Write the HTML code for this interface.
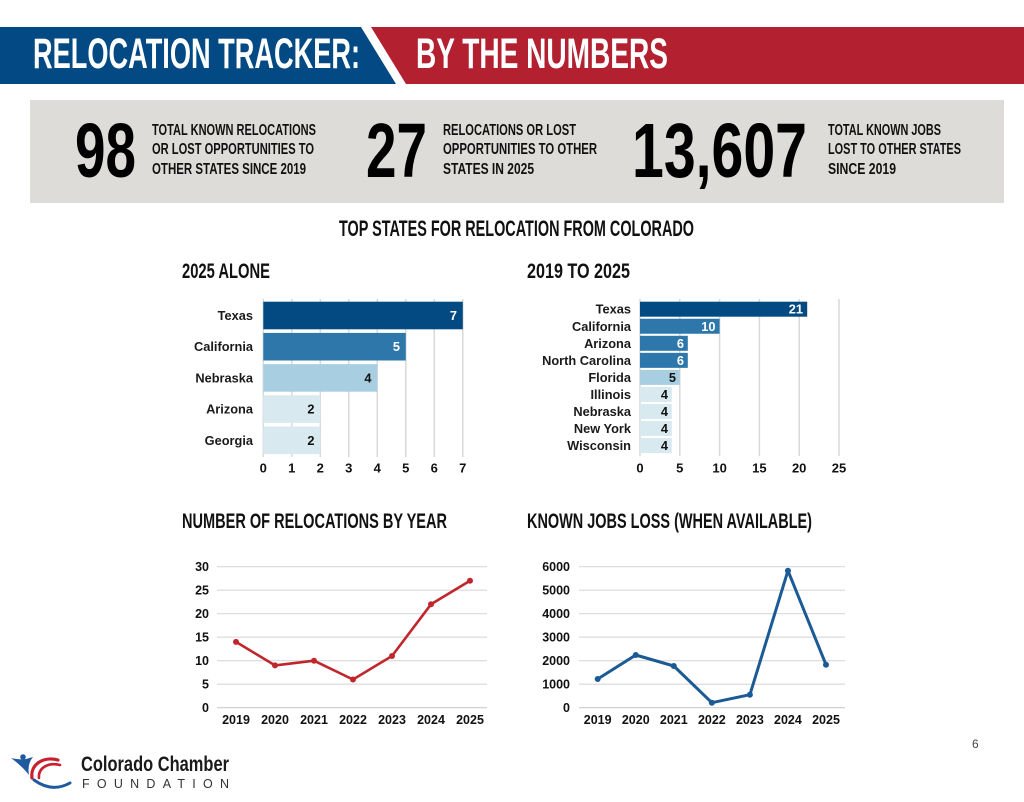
<!DOCTYPE html>
<html>
<head>
<meta charset="utf-8">
<style>
html,body{margin:0;padding:0;background:#fff;}
body{width:1024px;height:802px;overflow:hidden;}
svg{display:block;}
.cond{font-family:"Liberation Sans Narrow","Liberation Sans",sans-serif;font-weight:bold;}
.sans{font-family:"Liberation Sans",sans-serif;font-weight:bold;}
</style>
</head>
<body>
<svg width="1024" height="802" viewBox="0 0 1024 802" xmlns="http://www.w3.org/2000/svg">
  <!-- Header banner -->
  <polygon points="0,27 361,27 396,84 0,84" fill="#034a84"/>
  <polygon points="371,27 1024,27 1024,84 406,84" fill="#b32030"/>
  <text class="cond" x="33" y="68" font-size="43" fill="#fff" textLength="327" lengthAdjust="spacingAndGlyphs">RELOCATION TRACKER:</text>
  <text class="cond" x="416" y="68" font-size="43" fill="#fff" textLength="252" lengthAdjust="spacingAndGlyphs">BY THE NUMBERS</text>

  <!-- Stats box -->
  <rect x="30" y="100" width="974" height="103" fill="#dddcd8"/>
  <text class="cond" x="75" y="177" font-size="77" fill="#000" textLength="61" lengthAdjust="spacingAndGlyphs">98</text>
  <text class="cond" x="152" y="135" font-size="16" fill="#111" textLength="164" lengthAdjust="spacingAndGlyphs">TOTAL KNOWN RELOCATIONS</text>
  <text class="cond" x="152" y="154" font-size="16" fill="#111" textLength="162" lengthAdjust="spacingAndGlyphs">OR LOST OPPORTUNITIES TO</text>
  <text class="cond" x="152" y="174" font-size="16" fill="#111" textLength="154" lengthAdjust="spacingAndGlyphs">OTHER STATES SINCE 2019</text>

  <text class="cond" x="366" y="177" font-size="77" fill="#000" textLength="61" lengthAdjust="spacingAndGlyphs">27</text>
  <text class="cond" x="443" y="135" font-size="16" fill="#111" textLength="133" lengthAdjust="spacingAndGlyphs">RELOCATIONS OR LOST</text>
  <text class="cond" x="443" y="154" font-size="16" fill="#111" textLength="154" lengthAdjust="spacingAndGlyphs">OPPORTUNITIES TO OTHER</text>
  <text class="cond" x="443" y="174" font-size="16" fill="#111" textLength="91" lengthAdjust="spacingAndGlyphs">STATES IN 2025</text>

  <text class="cond" x="632" y="177" font-size="77" fill="#000" textLength="175" lengthAdjust="spacingAndGlyphs">13,607</text>
  <text class="cond" x="828" y="135" font-size="16" fill="#111" textLength="113" lengthAdjust="spacingAndGlyphs">TOTAL KNOWN JOBS</text>
  <text class="cond" x="828" y="154" font-size="16" fill="#111" textLength="133" lengthAdjust="spacingAndGlyphs">LOST TO OTHER STATES</text>
  <text class="cond" x="828" y="174" font-size="16" fill="#111" textLength="68" lengthAdjust="spacingAndGlyphs">SINCE 2019</text>

  <!-- Section title -->
  <text class="cond" x="339" y="236" font-size="22" fill="#111" textLength="355" lengthAdjust="spacingAndGlyphs">TOP STATES FOR RELOCATION FROM COLORADO</text>

  <!-- ===== Bar chart 1: 2025 ALONE ===== -->
  <text class="cond" x="182" y="278" font-size="21" fill="#111" textLength="88" lengthAdjust="spacingAndGlyphs">2025 ALONE</text>
  <g stroke="#d9d9d9" stroke-width="1.5">
    <line x1="263.3" y1="299" x2="263.3" y2="457"/>
    <line x1="291.8" y1="299" x2="291.8" y2="457"/>
    <line x1="320.3" y1="299" x2="320.3" y2="457"/>
    <line x1="348.8" y1="299" x2="348.8" y2="457"/>
    <line x1="377.3" y1="299" x2="377.3" y2="457"/>
    <line x1="405.8" y1="299" x2="405.8" y2="457"/>
    <line x1="434.3" y1="299" x2="434.3" y2="457"/>
    <line x1="462.8" y1="299" x2="462.8" y2="457"/>
  </g>
  <rect x="263.3" y="301.7" width="199.5" height="27.6" fill="#034a82"/>
  <rect x="263.3" y="332.9" width="142.5" height="27.6" fill="#2d77aa"/>
  <rect x="263.3" y="364.1" width="114" height="27.6" fill="#a7cfe1"/>
  <rect x="263.3" y="395.3" width="57" height="27.6" fill="#d8e9f0"/>
  <rect x="263.3" y="426.5" width="57" height="27.6" fill="#d8e9f0"/>
  <g class="sans" font-size="12.8" fill="#1a1a1a" text-anchor="end">
    <text x="253" y="320">Texas</text>
    <text x="253" y="351.2">California</text>
    <text x="253" y="382.4">Nebraska</text>
    <text x="253" y="413.6">Arizona</text>
    <text x="253" y="444.8">Georgia</text>
  </g>
  <g class="sans" font-size="12.8" text-anchor="end">
    <text x="457" y="320" fill="#fff">7</text>
    <text x="400" y="351.2" fill="#fff">5</text>
    <text x="371.5" y="382.4" fill="#111">4</text>
    <text x="314.5" y="413.6" fill="#111">2</text>
    <text x="314.5" y="444.8" fill="#111">2</text>
  </g>
  <g class="sans" font-size="13" fill="#111" text-anchor="middle">
    <text x="263.3" y="472.5">0</text>
    <text x="291.8" y="472.5">1</text>
    <text x="320.3" y="472.5">2</text>
    <text x="348.8" y="472.5">3</text>
    <text x="377.3" y="472.5">4</text>
    <text x="405.8" y="472.5">5</text>
    <text x="434.3" y="472.5">6</text>
    <text x="462.8" y="472.5">7</text>
  </g>

  <!-- ===== Bar chart 2: 2019 TO 2025 ===== -->
  <text class="cond" x="527" y="278" font-size="21" fill="#111" textLength="103" lengthAdjust="spacingAndGlyphs">2019 TO 2025</text>
  <g stroke="#d9d9d9" stroke-width="1.5">
    <line x1="640" y1="299" x2="640" y2="456"/>
    <line x1="679.8" y1="299" x2="679.8" y2="456"/>
    <line x1="719.6" y1="299" x2="719.6" y2="456"/>
    <line x1="759.4" y1="299" x2="759.4" y2="456"/>
    <line x1="799.2" y1="299" x2="799.2" y2="456"/>
    <line x1="839" y1="299" x2="839" y2="456"/>
  </g>
  <rect x="640" y="301.7" width="167.2" height="15" fill="#034a82"/>
  <rect x="640" y="318.75" width="79.6" height="15" fill="#2d77aa"/>
  <rect x="640" y="335.8" width="47.8" height="15" fill="#2d77aa"/>
  <rect x="640" y="352.85" width="47.8" height="15" fill="#2d77aa"/>
  <rect x="640" y="369.9" width="39.8" height="15" fill="#a7cfe1"/>
  <rect x="640" y="386.95" width="31.8" height="15" fill="#d8e9f0"/>
  <rect x="640" y="404" width="31.8" height="15" fill="#d8e9f0"/>
  <rect x="640" y="421.05" width="31.8" height="15" fill="#d8e9f0"/>
  <rect x="640" y="438.1" width="31.8" height="15" fill="#d8e9f0"/>
  <g class="sans" font-size="12.8" fill="#1a1a1a" text-anchor="end">
    <text x="631" y="313.7">Texas</text>
    <text x="631" y="330.75">California</text>
    <text x="631" y="347.8">Arizona</text>
    <text x="631" y="364.85">North Carolina</text>
    <text x="631" y="381.9">Florida</text>
    <text x="631" y="398.95">Illinois</text>
    <text x="631" y="416">Nebraska</text>
    <text x="631" y="433.05">New York</text>
    <text x="631" y="450.1">Wisconsin</text>
  </g>
  <g class="sans" font-size="12.8" text-anchor="end">
    <text x="803" y="313.7" fill="#fff">21</text>
    <text x="715.5" y="330.75" fill="#fff">10</text>
    <text x="684" y="347.8" fill="#fff">6</text>
    <text x="684" y="364.85" fill="#fff">6</text>
    <text x="676" y="381.9" fill="#111">5</text>
    <text x="668" y="398.95" fill="#111">4</text>
    <text x="668" y="416" fill="#111">4</text>
    <text x="668" y="433.05" fill="#111">4</text>
    <text x="668" y="450.1" fill="#111">4</text>
  </g>
  <g class="sans" font-size="13" fill="#111" text-anchor="middle">
    <text x="640" y="472.5">0</text>
    <text x="679.8" y="472.5">5</text>
    <text x="719.6" y="472.5">10</text>
    <text x="759.4" y="472.5">15</text>
    <text x="799.2" y="472.5">20</text>
    <text x="839" y="472.5">25</text>
  </g>

  <!-- ===== Line chart 1 ===== -->
  <text class="cond" x="182" y="528" font-size="21" fill="#111" textLength="265" lengthAdjust="spacingAndGlyphs">NUMBER OF RELOCATIONS BY YEAR</text>
  <g stroke="#d9d9d9" stroke-width="1.2">
    <line x1="217" y1="566.7" x2="487" y2="566.7"/>
    <line x1="217" y1="590.2" x2="487" y2="590.2"/>
    <line x1="217" y1="613.7" x2="487" y2="613.7"/>
    <line x1="217" y1="637.2" x2="487" y2="637.2"/>
    <line x1="217" y1="660.7" x2="487" y2="660.7"/>
    <line x1="217" y1="684.2" x2="487" y2="684.2"/>
    <line x1="217" y1="707.7" x2="487" y2="707.7" stroke="#cccccc"/>
  </g>
  <g class="sans" font-size="12.5" fill="#111" text-anchor="end">
    <text x="209" y="571.2">30</text>
    <text x="209" y="594.7">25</text>
    <text x="209" y="618.2">20</text>
    <text x="209" y="641.7">15</text>
    <text x="209" y="665.2">10</text>
    <text x="209" y="688.7">5</text>
    <text x="209" y="712.2">0</text>
  </g>
  <polyline points="236,641.9 275,665.4 314,660.7 353,679.5 392,656 431,604.3 470,580.8" fill="none" stroke="#c0272d" stroke-width="2.6" stroke-linejoin="round"/>
  <g fill="#c0272d">
    <circle cx="236" cy="641.9" r="3"/>
    <circle cx="275" cy="665.4" r="3"/>
    <circle cx="314" cy="660.7" r="3"/>
    <circle cx="353" cy="679.5" r="3"/>
    <circle cx="392" cy="656" r="3"/>
    <circle cx="431" cy="604.3" r="3"/>
    <circle cx="470" cy="580.8" r="3"/>
  </g>
  <g class="sans" font-size="12.5" fill="#111" text-anchor="middle">
    <text x="236" y="724">2019</text>
    <text x="275" y="724">2020</text>
    <text x="314" y="724">2021</text>
    <text x="353" y="724">2022</text>
    <text x="392" y="724">2023</text>
    <text x="431" y="724">2024</text>
    <text x="470" y="724">2025</text>
  </g>

  <!-- ===== Line chart 2 ===== -->
  <text class="cond" x="527" y="528" font-size="21" fill="#111" textLength="285" lengthAdjust="spacingAndGlyphs">KNOWN JOBS LOSS (WHEN AVAILABLE)</text>
  <g stroke="#d9d9d9" stroke-width="1.2">
    <line x1="579" y1="566.7" x2="845" y2="566.7"/>
    <line x1="579" y1="590.2" x2="845" y2="590.2"/>
    <line x1="579" y1="613.7" x2="845" y2="613.7"/>
    <line x1="579" y1="637.2" x2="845" y2="637.2"/>
    <line x1="579" y1="660.7" x2="845" y2="660.7"/>
    <line x1="579" y1="684.2" x2="845" y2="684.2"/>
    <line x1="579" y1="707.7" x2="845" y2="707.7" stroke="#cccccc"/>
  </g>
  <g class="sans" font-size="12.5" fill="#111" text-anchor="end">
    <text x="570" y="571.2">6000</text>
    <text x="570" y="594.7">5000</text>
    <text x="570" y="618.2">4000</text>
    <text x="570" y="641.7">3000</text>
    <text x="570" y="665.2">2000</text>
    <text x="570" y="688.7">1000</text>
    <text x="570" y="712.2">0</text>
  </g>
  <polyline points="597.7,679 635.75,655 673.8,666 711.85,702.7 749.9,694.7 787.95,570.7 826,664.7" fill="none" stroke="#1b5a94" stroke-width="3" stroke-linejoin="round"/>
  <g fill="#1b5a94">
    <circle cx="597.7" cy="679" r="3"/>
    <circle cx="635.75" cy="655" r="3"/>
    <circle cx="673.8" cy="666" r="3"/>
    <circle cx="711.85" cy="702.7" r="3"/>
    <circle cx="749.9" cy="694.7" r="3"/>
    <circle cx="787.95" cy="570.7" r="3"/>
    <circle cx="826" cy="664.7" r="3"/>
  </g>
  <g class="sans" font-size="12.5" fill="#111" text-anchor="middle">
    <text x="597.7" y="724">2019</text>
    <text x="635.75" y="724">2020</text>
    <text x="673.8" y="724">2021</text>
    <text x="711.85" y="724">2022</text>
    <text x="749.9" y="724">2023</text>
    <text x="787.95" y="724">2024</text>
    <text x="826" y="724">2025</text>
  </g>

  <!-- Page number -->
  <text x="972" y="748" font-family="Liberation Sans, sans-serif" font-size="12" fill="#444">6</text>

  <!-- Footer logo -->
  <circle cx="23" cy="757" r="2.8" fill="#1f5aa0"/>
  <path d="M11,758 Q20,760 26,759 L33,757 Q27,764 29,775 Q22,766 11,758 Z" fill="#1f5aa0"/>
  <path d="M32,778 C30,764 44,756 58,760" fill="none" stroke="#c8202f" stroke-width="3.2" stroke-linecap="round"/>
  <path d="M39,778 C38,768 48,762 60,765" fill="none" stroke="#c8202f" stroke-width="2.6" stroke-linecap="round"/>
  <path d="M34,780 Q52,793 70,783" fill="none" stroke="#1f5aa0" stroke-width="3" stroke-linecap="round"/>
  <text class="cond" x="81" y="771" font-size="21" fill="#1a1a1a" textLength="148" lengthAdjust="spacingAndGlyphs">Colorado Chamber</text>
  <text x="82" y="788" font-family="Liberation Sans, sans-serif" font-size="12.5" fill="#333" textLength="147" lengthAdjust="spacing">FOUNDATION</text>
</svg>
</body>
</html>
